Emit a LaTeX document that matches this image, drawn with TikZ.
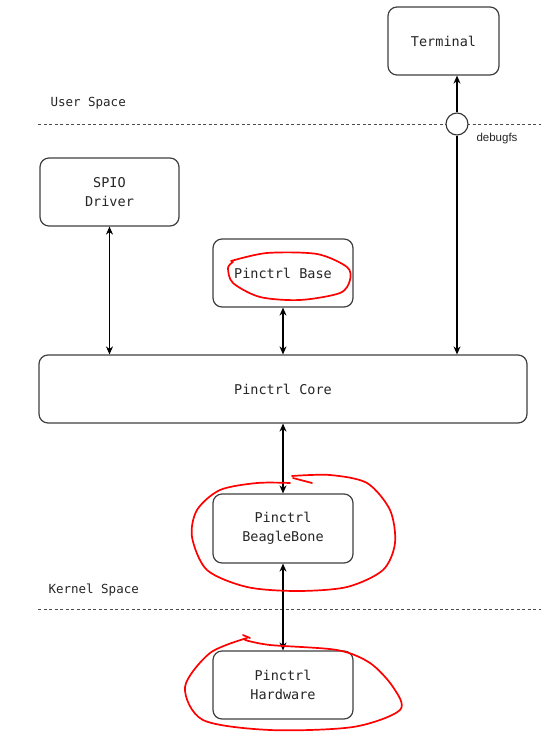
\documentclass[tikz,border=0pt]{standalone}
\usepackage{fontspec}
\setmonofont{DejaVu Sans Mono}
\setsansfont{Liberation Sans}
\usetikzlibrary{arrows.meta}
\begin{document}
\begin{tikzpicture}[x=1pt,y=-1pt,
  box/.style={draw=black!75, line width=1.2pt, rounded corners=9pt, fill=white,
    inner sep=0pt, align=center, font=\ttfamily\fontsize{13.5}{19}\selectfont, text=black!85},
  link/.style={line width=1.1pt, {Stealth[length=8pt,width=7pt]}-{Stealth[length=8pt,width=7pt]}},
  onelink/.style={line width=1.1pt, -{Stealth[length=8pt,width=7pt]}},
  sep/.style={dashed, dash pattern=on 3pt off 2.5pt, line width=0.9pt, black!70},
  lbl/.style={font=\ttfamily\fontsize{12.5}{14}\selectfont, anchor=west, text=black!85},
  scrib/.style={red, line width=1.7pt, line cap=round, line join=round}]
\useasboundingbox (0,0) rectangle (541,733);
\fill[white] (0,0) rectangle (541,733);

% separators
\draw[sep] (38,124) -- (541,124);
\draw[sep] (38,609) -- (541,609);
\node[lbl] (us) at (47,103) {User Space};
\node[lbl] (ks) at (45,590) {Kernel Space};

% boxes
\node[box, minimum width=111pt, minimum height=68pt] (term) at (443.5,41) {Terminal};
\node[box, minimum width=139pt, minimum height=68pt] (spio) at (109.5,192) {SPIO\\Driver};
\node[box, minimum width=140pt, minimum height=68pt] (base) at (283,273) {Pinctrl Base};
\node[box, minimum width=488pt, minimum height=68pt] (core) at (283,389) {Pinctrl Core};
\node[box, minimum width=140pt, minimum height=69pt] (bb) at (283,528.5) {Pinctrl\\BeagleBone};
\node[box, minimum width=140pt, minimum height=68pt] (hw) at (283,685) {Pinctrl\\Hardware};

% debugfs circle
\node[draw=black!80, line width=1.1pt, circle, minimum size=22pt, inner sep=0pt, fill=white] (dbg) at (457,124) {};
\node[font=\sffamily\fontsize{11.5}{13}\selectfont, text=black!85] (dbgl) at (497,139) {debugfs};

% connectors
\draw[link] (spio.south) -- (spio.south |- core.north);
\draw[link] (base.south) -- (core.north -| base.south);
\draw[onelink] (dbg.north) -- (term.south -| dbg.north);
\draw[onelink] (dbg.south) -- (core.north -| dbg.south);
\draw[link] (core.south) -- (bb.north);
\draw[link] (bb.south) -- (hw.north);

% red hand-drawn annotations
\draw[scrib] plot[smooth] coordinates {(231,261) (267,253) (317,254) (347,267) (350,280) (340,293) (300,300) (260,297) (233,283) (228,268) (233,262)};
\draw[scrib] plot[smooth] coordinates {(312,483) (293,478)};
\draw[scrib] plot[smooth] coordinates {(292,476) (330,475) (367,483) (390,510) (395,543) (383,570) (347,587) (297,591) (247,587) (207,570) (192,537) (197,510) (220,490) (257,483) (290,483)};
\draw[scrib] plot[smooth] coordinates {(243,635) (250,638)};
\draw[scrib] plot[smooth] coordinates {(247,638) (210,653) (185,687) (203,720) (270,730) (353,727) (400,710) (393,687) (370,663) (337,650) (270,645) (245,640)};
\end{tikzpicture}
\end{document}
